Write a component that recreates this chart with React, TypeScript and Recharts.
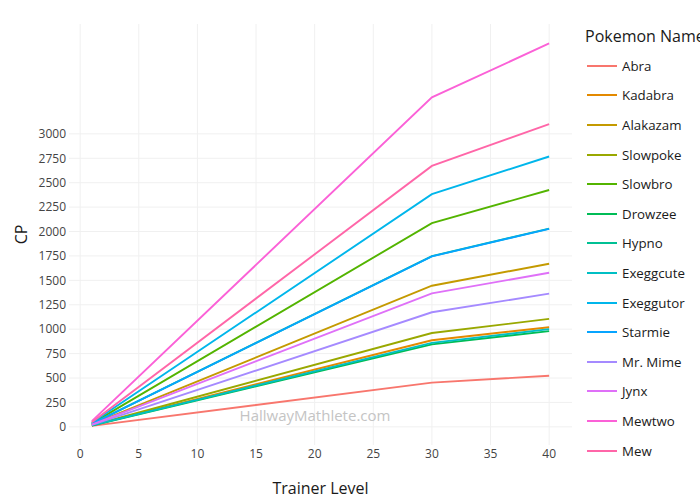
import { CartesianGrid, Legend, Line, LineChart, XAxis, YAxis } from 'recharts';

const LEVELS = [1, 30, 40];

const POKEMON = [
  'Abra', 'Kadabra', 'Alakazam', 'Slowpoke', 'Slowbro', 'Drowzee', 'Hypno',
  'Exeggcute', 'Exeggutor', 'Starmie', 'Mr. Mime', 'Jynx', 'Mewtwo', 'Mew',
];

// CP at level 1, 30, 40
const ABRA = [10, 453, 523];
const KADABRA = [15, 887, 1020];
const ALAKAZAM = [25, 1445, 1670];
const SLOWPOKE = [16, 961, 1105];
const SLOWBRO = [36, 2086, 2425];
const DROWZEE = [14, 845, 980];
const HYPNO = [30, 1748, 2029];
const EXEGGCUTE = [15, 860, 1000];
const EXEGGUTOR = [41, 2382, 2768];
const STARMIE = [30, 1746, 2027];
const MR_MIME = [20, 1173, 1364];
const JYNX = [23, 1367, 1578];
const MEWTWO = [58, 3374, 3926];
const MEW = [46, 2672, 3099];

const SERIES = [
  ABRA, KADABRA, ALAKAZAM, SLOWPOKE, SLOWBRO, DROWZEE, HYPNO,
  EXEGGCUTE, EXEGGUTOR, STARMIE, MR_MIME, JYNX, MEWTWO, MEW,
];

const X_TICKS = [0, 5, 10, 15, 20, 25, 30, 35, 40];
const Y_TICKS = [0, 250, 500, 750, 1000, 1250, 1500, 1750, 2000, 2250, 2500, 2750, 3000];

const COLORS = [
  '#F8766D', '#E38900', '#C49A00', '#99A800', '#53B400', '#00BC56', '#00C094',
  '#00BFC4', '#00B6EB', '#06A4FF', '#A58AFF', '#DF70F8', '#FB61D7', '#FF66A8',
];

const FONT = '"Open Sans", sans-serif';

const data = LEVELS.map((level, i) => {
  const row: Record<string, number> = { level };
  POKEMON.forEach((name, j) => {
    row[name] = SERIES[j][i];
  });
  return row;
});

function LegendBox({ payload }: any) {
  const items = [...(payload || [])].sort(
    (a: any, b: any) => POKEMON.indexOf(a.value) - POKEMON.indexOf(b.value),
  );
  return (
    <div style={{ fontFamily: FONT, color: '#1a1a1a' }}>
      <div style={{ fontSize: 16, lineHeight: '20px', paddingLeft: 7, whiteSpace: 'nowrap' }}>
        Pokemon Name
      </div>
      <div style={{ marginTop: 5 }}>
        {items.map((entry: any) => (
          <div
            key={entry.value}
            style={{ display: 'flex', alignItems: 'center', height: 29.6 }}
          >
            <svg width={30} height={4} style={{ marginLeft: 9 }}>
              <line x1={0} y1={2} x2={30} y2={2} stroke={entry.color} strokeWidth={2} />
            </svg>
            <span style={{ fontSize: 13.3, marginLeft: 5 }}>{entry.value}</span>
          </div>
        ))}
      </div>
    </div>
  );
}

export default function App() {
  return (
    <div style={{ position: 'absolute', left: 0, top: 0, width: 700, height: 500, background: '#fff', fontFamily: FONT, overflow: 'hidden' }}>
      <LineChart
        width={700}
        height={500}
        data={data}
        margin={{ top: 24, right: 6, bottom: 25, left: 0 }}
      >
        <CartesianGrid stroke="#f0f0f0" strokeWidth={1} syncWithTicks />
        <XAxis
          dataKey="level"
          type="number"
          domain={[-0.95, 41.95]}
          ticks={X_TICKS}
          allowDataOverflow
          axisLine={false}
          tickLine={false}
          tickSize={0}
          tickMargin={4}
          height={30}
          tick={{ fill: '#444', fontSize: 12, fontFamily: FONT }}
          label={{
            value: 'Trainer Level',
            position: 'insideBottom',
            offset: -19,
            style: { fill: '#1a1a1a', fontSize: 16, fontFamily: FONT },
          }}
        />
        <YAxis
          type="number"
          domain={[-186, 4125]}
          ticks={Y_TICKS}
          allowDataOverflow
          axisLine={false}
          tickLine={false}
          tickSize={0}
          tickMargin={3}
          width={69}
          tick={{ fill: '#444', fontSize: 12, fontFamily: FONT }}
          label={{
            value: 'CP',
            angle: -90,
            position: 'insideLeft',
            offset: 21,
            style: { textAnchor: 'middle', fill: '#1a1a1a', fontSize: 16, fontFamily: FONT },
          }}
        />
        <Legend
          layout="vertical"
          align="right"
          verticalAlign="top"
          content={<LegendBox />}
          wrapperStyle={{ position: 'absolute', left: 578, top: 26, width: 122 }}
        />
        {POKEMON.map((name, i) => (
          <Line
            key={name}
            type="linear"
            dataKey={name}
            name={name}
            stroke={COLORS[i]}
            strokeWidth={1.9}
            dot={false}
            activeDot={false}
            isAnimationActive={false}
          />
        ))}
      </LineChart>
      <div
        style={{
          position: 'absolute',
          left: 315,
          top: 405,
          transform: 'translateX(-50%)',
          fontSize: 15,
          lineHeight: '20px',
          color: '#c4c4c4',
          whiteSpace: 'nowrap',
          pointerEvents: 'none',
        }}
      >
        HallwayMathlete.com
      </div>
    </div>
  );
}
